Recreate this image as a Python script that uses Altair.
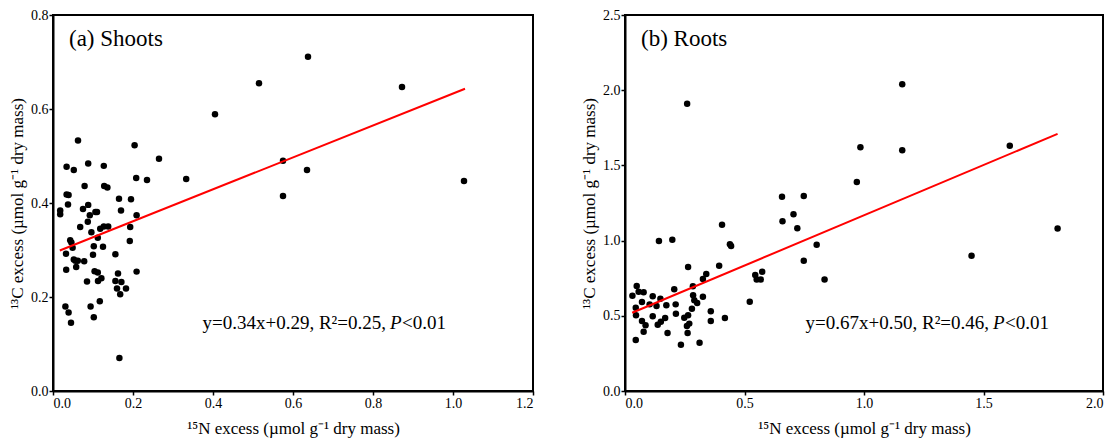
import altair as alt
import pandas as pd

FONT = "Liberation Serif"

# ---- (a) Shoots ----
shoot_n = [0.0625, 0.204, 0.265, 0.034, 0.052, 0.088, 0.127, 0.208, 0.235, 0.333,
           0.079, 0.128, 0.136, 0.034, 0.039, 0.0375, 0.088, 0.165, 0.195, 0.075,
           0.018, 0.018, 0.106, 0.110, 0.170, 0.092, 0.209, 0.087, 0.068, 0.096,
           0.118, 0.127, 0.138, 0.193, 0.112, 0.043, 0.046, 0.192, 0.102, 0.125,
           0.049, 0.0325, 0.100, 0.156, 0.052, 0.056, 0.062, 0.078, 0.058, 0.033,
           0.104, 0.112, 0.1625, 0.209, 0.121, 0.1125, 0.085, 0.156, 0.171, 0.160,
           0.1825, 0.168, 0.031, 0.094, 0.117, 0.039, 0.102, 0.045, 0.166,
           0.405, 0.515, 0.6375, 0.575, 0.575, 0.635, 0.8725, 1.0275]
shoot_c = [0.533, 0.523, 0.494, 0.477, 0.470, 0.484, 0.479, 0.453, 0.449, 0.451,
           0.436, 0.436, 0.433, 0.418, 0.417, 0.397, 0.396, 0.409, 0.408, 0.387,
           0.384, 0.376, 0.381, 0.381, 0.384, 0.374, 0.374, 0.360, 0.349, 0.338,
           0.345, 0.350, 0.350, 0.349, 0.326, 0.321, 0.316, 0.319, 0.308, 0.307,
           0.305, 0.292, 0.290, 0.291, 0.280, 0.277, 0.277, 0.276, 0.264, 0.258,
           0.255, 0.252, 0.250, 0.254, 0.240, 0.234, 0.233, 0.234, 0.232, 0.218,
           0.218, 0.206, 0.180, 0.180, 0.191, 0.167, 0.157, 0.145, 0.070,
           0.589, 0.655, 0.711, 0.490, 0.415, 0.470, 0.647, 0.447]
shoot_fit_x = [0.017, 1.03]
shoot_fit_y = [0.299, 0.643]

# ---- (b) Roots ----
root_n = [0.657, 0.748, 0.659, 0.705, 0.721, 0.406, 0.439, 0.444, 0.142, 0.198,
          0.802, 0.748, 0.394, 0.264, 0.574, 0.545, 0.551, 0.568, 0.340, 0.326,
          0.835, 0.049, 0.206, 0.284, 0.031, 0.057, 0.078, 0.116, 0.148, 0.071,
          0.103, 0.132, 0.045, 0.173, 0.212, 0.285, 0.290, 0.302, 0.326, 0.280,
          0.522, 0.116, 0.071, 0.086, 0.137, 0.150, 0.168, 0.213, 0.046, 0.248,
          0.264, 0.269, 0.259, 0.359, 0.359, 0.418, 0.078, 0.178, 0.262, 0.045,
          0.234, 0.312,
          0.26, 1.16, 1.16, 0.985, 0.97, 1.61, 1.81, 1.45]
root_c = [1.292, 1.297, 1.128, 1.175, 1.082, 1.106, 0.975, 0.964, 0.997, 1.006,
          0.973, 0.866, 0.833, 0.824, 0.793, 0.771, 0.742, 0.742, 0.778, 0.745,
          0.742, 0.698, 0.676, 0.696, 0.634, 0.660, 0.656, 0.630, 0.614, 0.592,
          0.576, 0.565, 0.554, 0.570, 0.576, 0.636, 0.603, 0.585, 0.627, 0.547,
          0.594, 0.497, 0.465, 0.437, 0.441, 0.461, 0.485, 0.514, 0.503, 0.487,
          0.503, 0.448, 0.432, 0.530, 0.465, 0.485, 0.394, 0.386, 0.386, 0.339,
          0.308, 0.321,
          1.91, 2.04, 1.60, 1.62, 1.39, 1.63, 1.08, 0.90]
root_fit_x = [0.03, 1.81]
root_fit_y = [0.52, 1.71]

x_title = "¹⁵N excess (µmol g⁻¹ dry mass)"
y_title = "¹³C excess (µmol g⁻¹ dry mass)"


def panel(nx, cy, fx, fy, xdom, ydom, xticks, yticks, label, lab_xy, eq, eq_xy, eqdx, w):
    xs = alt.Scale(domain=xdom, nice=False, zero=False)
    ys = alt.Scale(domain=ydom, nice=False, zero=False)
    xax = alt.Axis(values=xticks, format=".1f", title=x_title, grid=False, titlePadding=10)
    yax = alt.Axis(values=yticks, format=".1f", title=y_title, grid=False)
    pts = alt.Chart(pd.DataFrame({"x": nx, "y": cy})).mark_circle(
        size=42, color="black", opacity=1
    ).encode(x=alt.X("x:Q", scale=xs, axis=xax), y=alt.Y("y:Q", scale=ys, axis=yax))
    fit = alt.Chart(pd.DataFrame({"x": fx, "y": fy})).mark_line(
        color="#ff0000", strokeWidth=2
    ).encode(x=alt.X("x:Q", scale=xs), y=alt.Y("y:Q", scale=ys))
    lab = alt.Chart(pd.DataFrame({"x": [lab_xy[0]], "y": [lab_xy[1]], "t": [label]})).mark_text(
        align="left", baseline="middle", font=FONT, fontSize=23, color="black"
    ).encode(x=alt.X("x:Q", scale=xs), y=alt.Y("y:Q", scale=ys), text="t:N")
    eqd = pd.DataFrame({"x": [eq_xy[0]], "y": [eq_xy[1]],
                        "a": [eq[0]], "b": [eq[1]], "c": [eq[2]]})
    t1 = alt.Chart(eqd).mark_text(align="right", baseline="middle", font=FONT,
                                  fontSize=19, dx=-4, color="black").encode(
        x=alt.X("x:Q", scale=xs), y=alt.Y("y:Q", scale=ys), text="a:N")
    t2 = alt.Chart(eqd).mark_text(align="left", baseline="middle", font=FONT,
                                  fontSize=19, fontStyle="italic", color="black").encode(
        x=alt.X("x:Q", scale=xs), y=alt.Y("y:Q", scale=ys), text="b:N")
    t3 = alt.Chart(eqd).mark_text(align="left", baseline="middle", font=FONT,
                                  fontSize=19, dx=eqdx, color="black").encode(
        x=alt.X("x:Q", scale=xs), y=alt.Y("y:Q", scale=ys), text="c:N")
    return alt.layer(pts, fit, lab, t1, t2, t3).properties(width=w, height=376)


left = panel(shoot_n, shoot_c, shoot_fit_x, shoot_fit_y, [0, 1.2], [0, 0.8],
             [0, 0.2, 0.4, 0.6, 0.8, 1.0, 1.2], [0, 0.2, 0.4, 0.6, 0.8],
             "(a) Shoots", (0.04, 0.749),
             ("y=0.34x+0.29, R²=0.25,", "P", "<0.01"), (0.8425, 0.145), 12, 480)
right = panel(root_n, root_c, root_fit_x, root_fit_y, [0, 2.0], [0, 2.5],
              [0, 0.5, 1.0, 1.5, 2.0], [0, 0.5, 1.0, 1.5, 2.0, 2.5],
              "(b) Roots", (0.067, 2.34),
              ("y=0.67x+0.50, R²=0.46,", "P", "<0.01"), (1.54, 0.452), 12, 478)

chart = alt.hconcat(left, right, spacing=44).properties(
    padding={"left": 7, "top": 7, "right": 5, "bottom": 5},
    background="white",
).configure_view(stroke="black", strokeWidth=2).configure_axis(
    domainColor="black", domainWidth=2, tickColor="black", tickWidth=1.5, tickSize=4,
    labelFont=FONT, labelFontSize=14, labelColor="black", labelPadding=1,
    titleFont=FONT, titleFontSize=17, titleFontWeight="normal", titleColor="black",
)

chart.save("out.html", embed_options={"renderer": "svg", "actions": False})
